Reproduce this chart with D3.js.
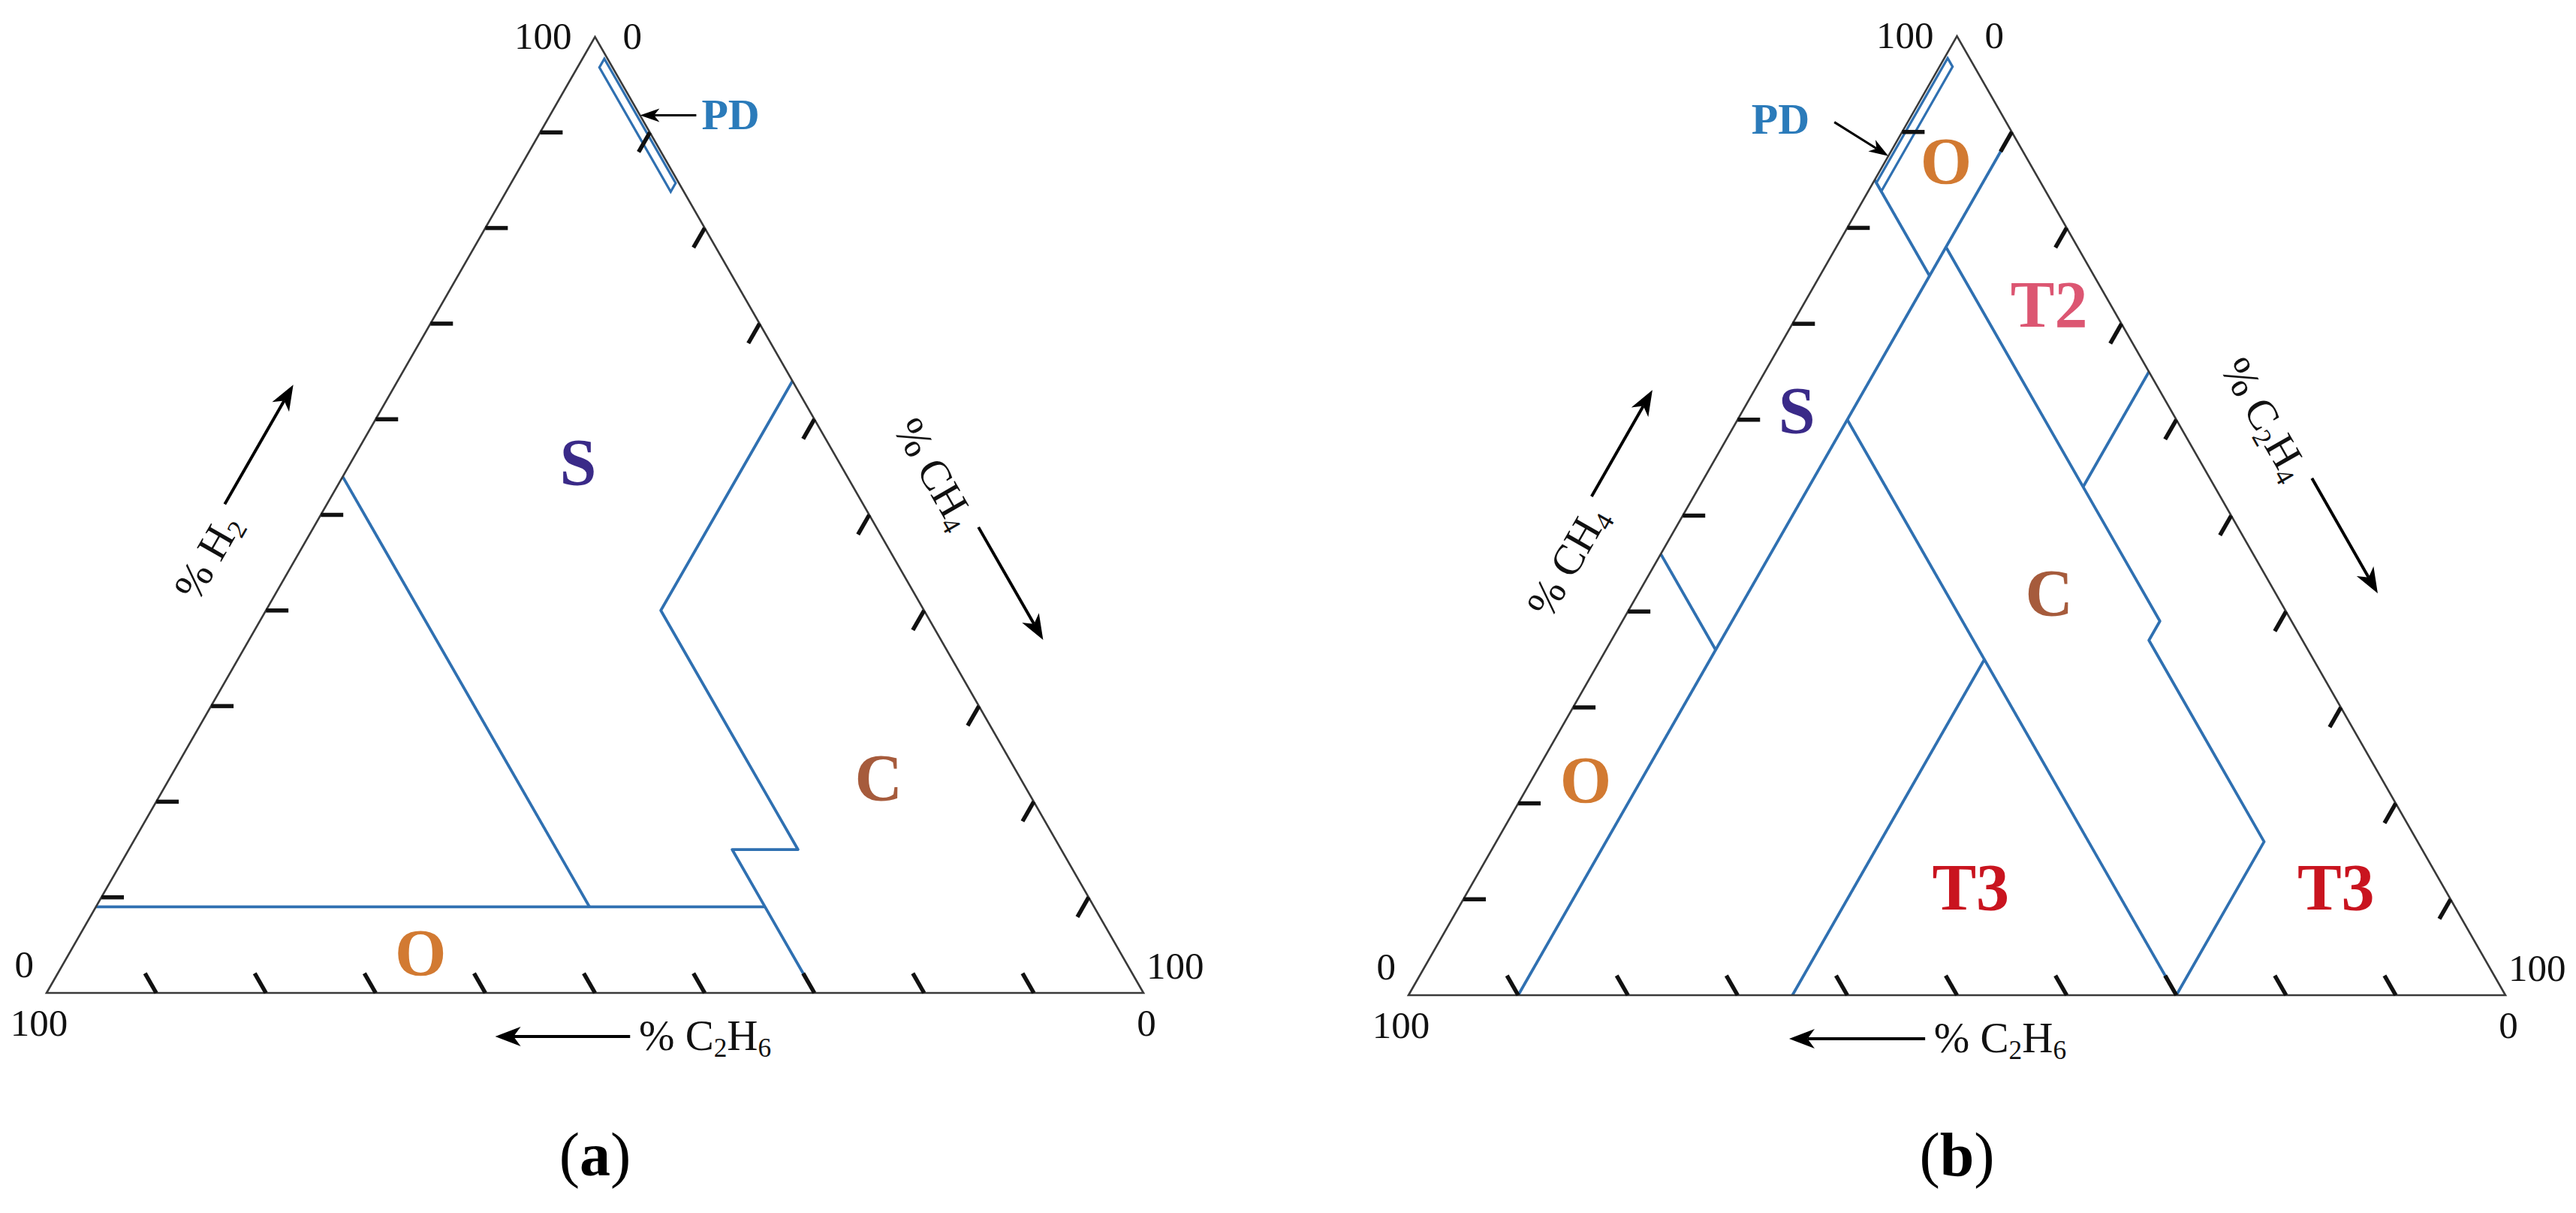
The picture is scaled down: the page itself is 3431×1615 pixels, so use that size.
<!DOCTYPE html>
<html>
<head>
  <meta charset="utf-8">
  <title>Duval triangles 4 and 5</title>
  <script src="https://cdn.jsdelivr.net/npm/d3@7"></script>
  <style>
    body { margin: 0; background: #fff; }
    svg { display: block; font-family: "Liberation Serif", "DejaVu Serif", serif; }
  </style>
</head>
<body>
  <main id="container"></main>

  <script>
    // ---- data (all values are percent, composition order = [top, right, left]) ----
    const tickValues = [10, 20, 30, 40, 50, 60, 70, 80, 90];
    const cornerLabels = ["100", "0", "0", "100", "100", "0"];

    // (a) triangle 4 : [H2, CH4, C2H6]
    const gasesA = [
      [["% H", 0], ["2", 1]],
      [["% CH", 0], ["4", 1]],
      [["% C", 0], ["2", 1], ["H", 0], ["6", 1]]
    ];
    const boundariesA = [
      [[9, 0, 91], [9, 61, 30]],
      [[54, 0, 46], [9, 45, 46]],
      [[64, 36, 0], [40, 36, 24], [15, 61, 24], [15, 55, 30], [0, 70, 30]]
    ];
    const pdA = [[97.7, 2, 0.3], [96.8, 2, 1.2], [83.8, 15, 1.2], [84.7, 15, 0.3]];
    const zonesA = ["S", "C", "O"];
    const zonePosA = [[55.5, 20.7, 23.8], [22.5, 64.6, 12.9], [4.2, 32, 63.8]];
    const pdTipA = [91.8, 8.2, 0];

    // (b) triangle 5 : [CH4, C2H4, C2H6]
    const gasesB = [
      [["% CH", 0], ["4", 1]],
      [["% C", 0], ["2", 1], ["H", 0], ["4", 1]],
      [["% C", 0], ["2", 1], ["H", 0], ["6", 1]]
    ];
    const boundariesB = [
      [[90, 10, 0], [0, 10, 90]],
      [[85, 0, 15], [75, 10, 15]],
      [[46, 0, 54], [36, 10, 54]],
      [[60, 10, 30], [0, 70, 30]],
      [[35, 35, 30], [0, 35, 65]],
      [[65, 35, 0], [53, 35, 12]],
      [[78, 10, 12], [39, 49, 12], [37, 49, 14], [16, 70, 14], [0, 70, 30]]
    ];
    const pdB = [[97.7, 0.3, 2], [96.8, 1.2, 2], [83.8, 1.2, 15], [84.7, 0.3, 15]];
    const zonesB = ["O", "T2", "S", "C", "O", "T3", "T3"];
    const zonePosB = [[87, 5.5, 7.5], [72, 22.4, 5.6], [61, 4.9, 34.1], [42, 37.4, 20.6],
                      [22.5, 4.9, 72.6], [11.3, 45.6, 43.1], [11.3, 78.9, 9.8]];
    const pdTipB = [87.5, 0, 12.5];

    // ---- styling / layout ----
    const zoneColor = { S: "#3a2a88", C: "#a65b3c", O: "#d27a32", T2: "#dc5672", T3: "#c9141f", PD: "#2b7bba" };
    const blue = "#2f70b1";

    const panels = [
      { tag: "a", x0: 62, x1: 1523, yBase: 1322, yTop: 49,
        gases: gasesA, boundaries: boundariesA, pd: pdA, zones: zonesA, zonePos: zonePosA,
        pdTip: pdTipA, pdTail: [75, 0], pdText: [7, 19], pdAnchor: "start",
        arrows: [[46.5, 59], [55.9, 67.7], [46.8, 59.1]] },
      { tag: "b", x0: 1876, x1: 3337, yBase: 1325, yTop: 48,
        gases: gasesB, boundaries: boundariesB, pd: pdB, zones: zonesB, zonePos: zonePosB,
        pdTip: pdTipB, pdTail: [-72, -45], pdText: [-33, 15], pdAnchor: "end",
        arrows: [[47.4, 58.5], [50.7, 62.7], [52.9, 65.3]] }
    ];

    const edges = [
      [[0, 0, 100], [100, 0, 0]],   // left, from bottom-left corner
      [[100, 0, 0], [0, 100, 0]],   // right, from apex
      [[0, 100, 0], [0, 0, 100]]    // bottom, from bottom-right corner
    ];

    const axisFont = 57;
    const svg = d3.select("#container")
      .append("svg")
      .attr("width", 3431)
      .attr("height", 1615)

    svg.append("rect").attr("width", 3431).attr("height", 1615).attr("fill", "#fff")

    function arrow(g, tail, tip, width, len, half) {
      const dx = tip[0] - tail[0], dy = tip[1] - tail[1];
      const d = Math.hypot(dx, dy);
      const u = [dx / d, dy / d], n = [-u[1], u[0]];
      const notch = len * 0.72;
      g.append("line")
        .attr("x1", tail[0]).attr("y1", tail[1])
        .attr("x2", tip[0] - u[0] * notch).attr("y2", tip[1] - u[1] * notch)
        .attr("stroke", "#000").attr("stroke-width", width)
      const pts = [
        tip,
        [tip[0] - u[0] * len + n[0] * half, tip[1] - u[1] * len + n[1] * half],
        [tip[0] - u[0] * notch, tip[1] - u[1] * notch],
        [tip[0] - u[0] * len - n[0] * half, tip[1] - u[1] * len - n[1] * half]
      ];
      g.append("path").attr("d", d3.line()(pts) + "Z").attr("fill", "#000")
    }

    function gasText(t, parts, fs) {
      let sub = false;
      parts.forEach(([s, isSub]) => {
        const span = t.append("tspan").text(s);
        if (isSub && !sub) span.attr("font-size", fs * 0.62).attr("dy", fs * 0.15);
        else if (isSub) span.attr("font-size", fs * 0.62);
        else if (sub) span.attr("dy", -fs * 0.15);
        sub = isSub === 1;
      });
    }

    panels.forEach(p => {
      const xs = d3.scaleLinear().domain([0, 100]).range([p.x0, p.x1]);
      const ys = d3.scaleLinear().domain([0, 100]).range([p.yBase, p.yTop]);
      const proj = c => [xs(c[1] + c[0] / 2), ys(c[0])];

      const along = (e, pct, off) => {
        const [a, b] = edges[e].map(proj);
        const len = Math.hypot(b[0] - a[0], b[1] - a[1]);
        const u = [(b[0] - a[0]) / len, (b[1] - a[1]) / len];
        return { pt: [a[0] + u[0] * len * pct / 100 + u[1] * off, a[1] + u[1] * len * pct / 100 - u[0] * off],
                 angle: Math.atan2(u[1], u[0]) * 180 / Math.PI };
      };

      const g = svg.append("g")

      // zone boundaries
      g.selectAll("path.zone")
        .data(p.boundaries)
        .join("path")
        .attr("class", "zone")
        .attr("fill", "none")
        .attr("stroke", blue)
        .attr("stroke-width", 3.8)
        .attr("stroke-linejoin", "round")
        .attr("d", d => d3.line()(d.map(proj)))

      g.append("path")
        .attr("fill", "none")
        .attr("stroke", blue)
        .attr("stroke-width", 3.2)
        .attr("d", d3.line()(p.pd.map(proj)) + "Z")

      // outline
      g.append("path")
        .attr("fill", "none")
        .attr("stroke", "#3a3a3a")
        .attr("stroke-width", 2.6)
        .attr("stroke-linejoin", "miter")
        .attr("d", d3.line()([[0, 0, 100], [100, 0, 0], [0, 100, 0]].map(proj)) + "Z")

      // ticks pointing inward along the iso-lines
      const tk = 2.05;
      const tickSegs = [];
      tickValues.forEach(v => {
        tickSegs.push([[v, 0, 100 - v], [v, tk, 100 - v - tk]]);
        tickSegs.push([[100 - v, v, 0], [100 - v - tk, v, tk]]);
        tickSegs.push([[0, 100 - v, v], [tk, 100 - v - tk, v]]);
      });
      g.selectAll("path.tick")
        .data(tickSegs)
        .join("path")
        .attr("class", "tick")
        .attr("stroke", "#111")
        .attr("stroke-width", 5.5)
        .attr("d", d => d3.line()(d.map(proj)))

      // corner numbers
      const apex = proj([100, 0, 0]), bl = proj([0, 0, 100]), br = proj([0, 100, 0]);
      const cornerPos = [
        [apex[0] - 31, apex[1] + 16, "end"], [apex[0] + 37, apex[1] + 16, "start"],
        [bl[0] - 17, bl[1] - 21, "end"], [bl[0] - 10, bl[1] + 57, "middle"],
        [br[0] + 4, br[1] - 19, "start"], [br[0] + 4, br[1] + 57, "middle"]
      ];
      g.selectAll("text.corner")
        .data(cornerLabels)
        .join("text")
        .attr("class", "corner")
        .attr("x", (d, i) => cornerPos[i][0])
        .attr("y", (d, i) => cornerPos[i][1])
        .attr("text-anchor", (d, i) => cornerPos[i][2])
        .attr("font-size", 51)
        .attr("fill", "#111")
        .text(d => d)

      // axis names with arrows
      p.gases.forEach((parts, e) => {
        const [from, to] = p.arrows[e];
        const side = e < 2;
        const off = side ? 118 : 58;
        arrow(g, along(e, from, off).pt, along(e, to, off).pt, 4, 34, 13);
        const a = along(e, from - 0.8, side ? 84 : 76);
        const t = g.append("text")
          .attr("transform", `translate(${a.pt[0]},${a.pt[1]}) rotate(${side ? a.angle : 0})`)
          .attr("text-anchor", side ? "end" : "start")
          .attr("font-size", axisFont)
          .attr("fill", "#111");
        gasText(t, parts, axisFont);
      });

      // zone names
      g.selectAll("text.zoneName")
        .data(p.zones)
        .join("text")
        .attr("class", "zoneName")
        .attr("x", (d, i) => proj(p.zonePos[i])[0])
        .attr("y", (d, i) => proj(p.zonePos[i])[1])
        .attr("dy", "0.34em")
        .attr("text-anchor", "middle")
        .attr("font-size", 88)
        .attr("font-weight", "bold")
        .attr("fill", d => zoneColor[d])
        .text(d => d)

      // PD pointer
      const tip = proj(p.pdTip);
      const tail = [tip[0] + p.pdTail[0], tip[1] + p.pdTail[1]];
      arrow(g, tail, tip, 3, 26, 9);
      g.append("text")
        .attr("x", tail[0] + p.pdText[0])
        .attr("y", tail[1] + p.pdText[1])
        .attr("text-anchor", p.pdAnchor)
        .attr("font-size", 58)
        .attr("font-weight", "bold")
        .attr("fill", zoneColor.PD)
        .text("PD")

      // panel tag
      const tag = g.append("text")
        .attr("x", apex[0])
        .attr("y", 1565)
        .attr("text-anchor", "middle")
        .attr("font-size", 82)
        .attr("fill", "#000");
      tag.append("tspan").text("(");
      tag.append("tspan").attr("font-weight", "bold").text(p.tag);
      tag.append("tspan").text(")");
    });
  </script>
</body>
</html>
